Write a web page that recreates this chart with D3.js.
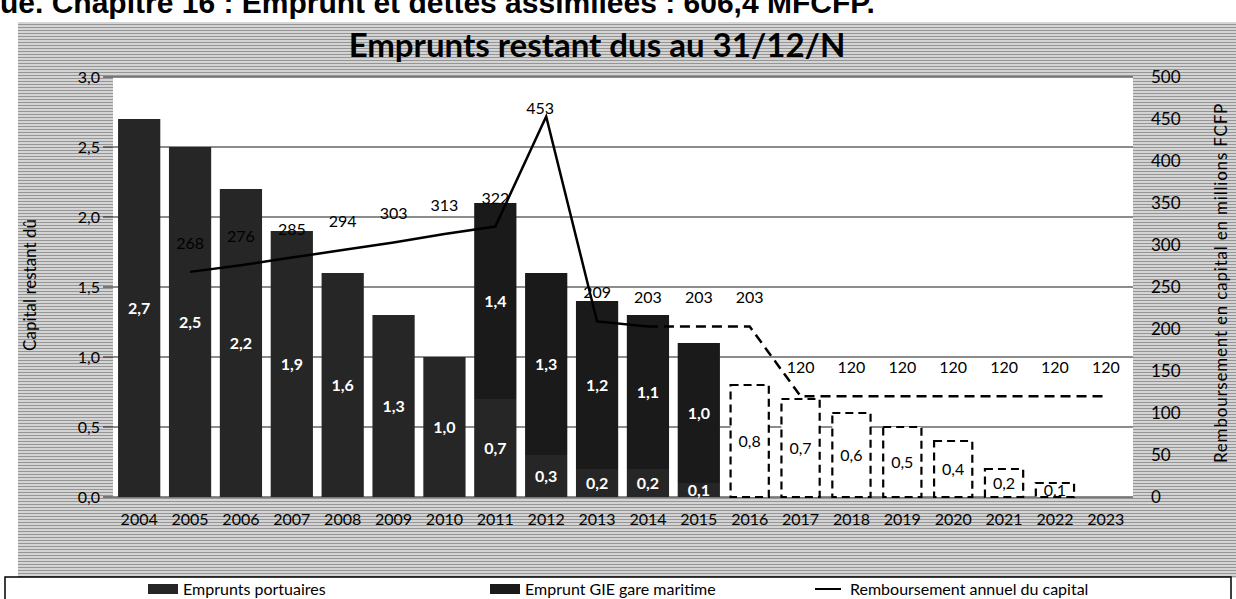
<!DOCTYPE html>
<meta charset="utf-8">
<style>
    body {
        margin: 0;
        background-color: #fff;
    }

    svg {
        display: block;
        font-family: Lato, "Open Sans", sans-serif;
    }
</style>
<title>Emprunts restant dus au 31/12/N</title>
<svg width="1236" height="599"></svg>
<script src="https://cdn.jsdelivr.net/npm/d3@7/dist/d3.min.js"></script>
<script>
    // donnees (capital en Md, remboursement en millions FCFP)
    var annees = ["2004", "2005", "2006", "2007", "2008", "2009", "2010", "2011", "2012", "2013",
        "2014", "2015", "2016", "2017", "2018", "2019", "2020", "2021", "2022", "2023"];
    var empruntsPortuaires = [2.7, 2.5, 2.2, 1.9, 1.6, 1.3, 1.0, 0.7, 0.3, 0.2,
        0.2, 0.1, null, null, null, null, null, null, null, null];
    var empruntGIE = [null, null, null, null, null, null, null, 1.4, 1.3, 1.2,
        1.1, 1.0, null, null, null, null, null, null, null, null];
    var empruntGIEPrevu = [null, null, null, null, null, null, null, null, null, null,
        null, null, 0.8, 0.7, 0.6, 0.5, 0.4, 0.2, 0.1, null];
    var remboursement = [null, 268, 276, 285, 294, 303, 313, 322, 453, 209,
        203, null, null, null, null, null, null, null, null, null];
    var remboursementPrevu = [null, null, null, null, null, null, null, null, null, null,
        203, 203, 203, 120, 120, 120, 120, 120, 120, 120];
    var ticksCapital = [0, 0.5, 1, 1.5, 2, 2.5, 3];
    var ticksRemb = [0, 50, 100, 150, 200, 250, 300, 350, 400, 450, 500];

    var locale = d3.formatLocale({
        "decimal": ",",
        "thousands": " ",
        "grouping": [3],
        "currency": ["", " FCFP"]
    });
    var fmt1 = locale.format(".1f");

    var svg = d3.select("svg");
    var gauche = 113, droite = 1133, haut = 77, bas = 497;
    var couleurPort = "#262626", couleurGIE = "#1a1a1a";

    var x = d3.scaleBand().domain(annees).range([gauche + 1, droite - 2])
        .paddingInner(0.17).paddingOuter(0.08);
    var yCap = d3.scaleLinear().domain([0, 3]).range([bas, haut]);
    var yRemb = d3.scaleLinear().domain([0, 500]).range([bas, haut]);

    // trame grise du fond (scan)
    var defs = svg.append("defs");
    var trame = defs.append("pattern")
        .attr("id", "trame")
        .attr("width", 4).attr("height", 3)
        .attr("patternUnits", "userSpaceOnUse");
    trame.append("rect").attr("width", 4).attr("height", 3).attr("fill", "#d4d4d4");
    trame.append("rect").attr("width", 4).attr("height", 1).attr("fill", "#959595");

    // titre de la page coupe en haut
    svg.append("text")
        .attr("x", 0).attr("y", 13)
        .style("font-family", "'Liberation Sans', Arial, sans-serif")
        .style("font-weight", "bold")
        .style("font-size", "30px")
        .text("ue. Chapitre 16 : Emprunt et dettes assimilées : 606,4 MFCFP.");

    svg.append("rect")
        .attr("x", 18).attr("y", 22)
        .attr("width", 1218).attr("height", 556)
        .attr("fill", "url(#trame)");

    svg.append("rect")
        .attr("x", gauche).attr("y", haut)
        .attr("width", droite - gauche).attr("height", bas - haut)
        .attr("fill", "#fff");

    // quadrillage
    svg.append("g")
        .selectAll("line")
        .data(ticksCapital)
        .enter().append("line")
        .attr("x1", gauche - 10).attr("x2", droite)
        .attr("y1", function (d) { return yCap(d); })
        .attr("y2", function (d) { return yCap(d); })
        .attr("stroke", "#1a1a1a")
        .attr("stroke-width", 1.2);

    svg.append("text")
        .attr("x", 597).attr("y", 57)
        .attr("text-anchor", "middle")
        .style("font-weight", "bold")
        .style("font-size", "33px")
        .text("Emprunts restant dus au 31/12/N");

    // barres empilees
    var lignes = annees.map(function (a, i) {
        return { annee: a, port: empruntsPortuaires[i], gie: empruntGIE[i], prevu: empruntGIEPrevu[i] };
    });

    var bw = x.bandwidth();

    svg.append("g").selectAll("rect")
        .data(lignes.filter(function (d) { return d.port != null; }))
        .enter().append("rect")
        .attr("x", function (d) { return x(d.annee); })
        .attr("width", bw)
        .attr("y", function (d) { return yCap(d.port); })
        .attr("height", function (d) { return yCap(0) - yCap(d.port); })
        .attr("fill", couleurPort);

    svg.append("g").selectAll("rect")
        .data(lignes.filter(function (d) { return d.gie != null; }))
        .enter().append("rect")
        .attr("x", function (d) { return x(d.annee); })
        .attr("width", bw)
        .attr("y", function (d) { return yCap(d.port + d.gie); })
        .attr("height", function (d) { return yCap(d.port) - yCap(d.port + d.gie); })
        .attr("fill", couleurGIE);

    svg.append("g").selectAll("rect")
        .data(lignes.filter(function (d) { return d.prevu != null; }))
        .enter().append("rect")
        .attr("x", function (d) { return x(d.annee) + 2; })
        .attr("width", bw - 4)
        .attr("y", function (d) { return yCap(d.prevu); })
        .attr("height", function (d) { return yCap(0) - yCap(d.prevu); })
        .attr("fill", "#fff")
        .attr("stroke", "#000")
        .attr("stroke-width", 2.2)
        .attr("stroke-dasharray", "8,5");

    // etiquettes des barres
    var etiq = svg.append("g")
        .attr("text-anchor", "middle")
        .style("font-size", "16px");

    etiq.selectAll(".ep")
        .data(lignes.filter(function (d) { return d.port != null; }))
        .enter().append("text")
        .attr("class", "ep")
        .attr("x", function (d) { return x(d.annee) + bw / 2; })
        .attr("y", function (d) { return yCap(d.port / 2); })
        .attr("dy", "0.35em")
        .attr("fill", "#fff")
        .style("font-weight", "bold")
        .text(function (d) { return fmt1(d.port); });

    etiq.selectAll(".eg")
        .data(lignes.filter(function (d) { return d.gie != null; }))
        .enter().append("text")
        .attr("class", "eg")
        .attr("x", function (d) { return x(d.annee) + bw / 2; })
        .attr("y", function (d) { return yCap(d.port + d.gie / 2); })
        .attr("dy", "0.35em")
        .attr("fill", "#fff")
        .style("font-weight", "bold")
        .text(function (d) { return fmt1(d.gie); });

    etiq.selectAll(".epr")
        .data(lignes.filter(function (d) { return d.prevu != null; }))
        .enter().append("text")
        .attr("class", "epr")
        .attr("x", function (d) { return x(d.annee) + bw / 2; })
        .attr("y", function (d) { return yCap(d.prevu / 2); })
        .attr("dy", "0.35em")
        .attr("fill", "#000")
        .text(function (d) { return fmt1(d.prevu); });

    // courbes du remboursement annuel
    function points(valeurs) {
        return annees.map(function (a, i) { return { annee: a, v: valeurs[i] }; })
            .filter(function (d) { return d.v != null; });
    }

    var ligne = d3.line()
        .x(function (d) { return x(d.annee) + bw / 2; })
        .y(function (d) { return yRemb(d.v); });

    var pReel = points(remboursement);
    var pPrevu = points(remboursementPrevu);

    svg.append("path")
        .datum(pReel)
        .attr("fill", "none")
        .attr("stroke", "#000")
        .attr("stroke-width", 2.5)
        .attr("d", ligne);

    svg.append("path")
        .datum(pPrevu)
        .attr("fill", "none")
        .attr("stroke", "#000")
        .attr("stroke-width", 2.5)
        .attr("stroke-dasharray", "10,6")
        .attr("d", ligne);

    var maxRemb = d3.max(pReel, function (d) { return d.v; });
    var etiqLigne = pReel.concat(pPrevu.slice(1));

    svg.append("g")
        .attr("text-anchor", "middle")
        .style("font-size", "16px")
        .selectAll("text")
        .data(etiqLigne)
        .enter().append("text")
        .attr("x", function (d) { return x(d.annee) + bw / 2 + (d.v == maxRemb ? -6 : 0); })
        .attr("y", function (d) { return yRemb(d.v) + (d.v == maxRemb ? -2 : -23); })
        .attr("fill", "#000")
        .text(function (d) { return d.v; });

    // axes
    var axeG = svg.append("g")
        .attr("transform", "translate(" + gauche + ",0)")
        .call(d3.axisLeft(yCap).tickValues(ticksCapital).tickFormat(fmt1).tickSize(0).tickPadding(13));
    var axeD = svg.append("g")
        .attr("transform", "translate(" + droite + ",0)")
        .call(d3.axisRight(yRemb).tickValues(ticksRemb).tickSize(0).tickPadding(18));
    var axeX = svg.append("g")
        .attr("transform", "translate(0," + bas + ")")
        .call(d3.axisBottom(x).tickSize(0).tickPadding(17));

    [axeG, axeD, axeX].forEach(function (a) {
        a.select(".domain").remove();
        a.selectAll("text")
            .style("font-family", "Lato, sans-serif")
            .style("font-size", "16px")
            .attr("fill", "#000");
    });
    axeD.selectAll("text").style("font-size", "17px");

    svg.append("text")
        .attr("transform", "translate(36,285) rotate(-90)")
        .attr("text-anchor", "middle")
        .style("font-size", "17px")
        .text("Capital restant dû");

    svg.append("text")
        .attr("transform", "translate(1227,283) rotate(-90)")
        .attr("text-anchor", "middle")
        .style("font-size", "17px")
        .style("letter-spacing", "0.8px")
        .text("Remboursement en capital en millions FCFP");

    // legende
    svg.append("rect")
        .attr("x", 5).attr("y", 577)
        .attr("width", 1226).attr("height", 60)
        .attr("fill", "#fff")
        .attr("stroke", "#000")
        .attr("stroke-width", 1.5);

    var legende = [
        { nom: "Emprunts portuaires", x: 148, type: "barre", couleur: couleurPort },
        { nom: "Emprunt GIE gare maritime", x: 490, type: "barre", couleur: couleurGIE },
        { nom: "Remboursement annuel du capital", x: 815, type: "ligne", couleur: "#000" }
    ];

    var item = svg.append("g").selectAll("g")
        .data(legende)
        .enter().append("g")
        .attr("transform", function (d) { return "translate(" + d.x + ",589)"; });

    item.filter(function (d) { return d.type == "barre"; })
        .append("rect")
        .attr("x", 0).attr("y", -5)
        .attr("width", 30).attr("height", 10)
        .attr("fill", function (d) { return d.couleur; });

    item.filter(function (d) { return d.type == "ligne"; })
        .append("line")
        .attr("x1", 0).attr("x2", 26)
        .attr("stroke", "#000")
        .attr("stroke-width", 2);

    item.append("text")
        .attr("x", 35)
        .attr("dy", "0.35em")
        .style("font-size", "16px")
        .text(function (d) { return d.nom; });
</script>
